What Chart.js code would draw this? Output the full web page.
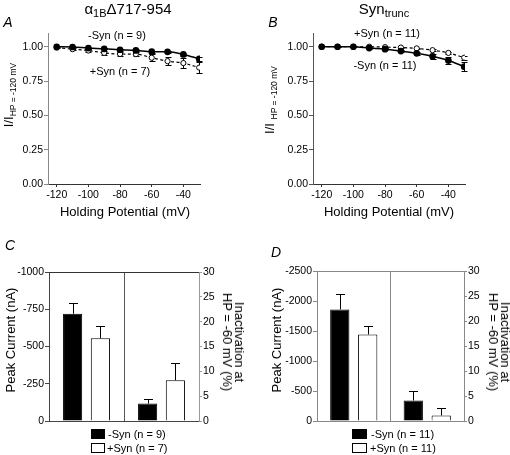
<!DOCTYPE html>
<html>
<head>
<meta charset="utf-8">
<script src="https://cdn.jsdelivr.net/npm/chart.js@4.4.1/dist/chart.umd.min.js"></script>
<style>
  body { margin: 0; background: #fff; }
  #wrap { position: relative; width: 510px; height: 455px; overflow: hidden; font-family: Arial, "Liberation Sans", sans-serif; color: #000; }
  canvas { position: absolute; }
  .t { position: absolute; white-space: nowrap; line-height: 1; transform: translate(-50%, -50%); }
  .rl { transform: translate(-50%, -50%) rotate(-90deg); }
  .rr { transform: translate(-50%, -50%) rotate(90deg); text-align: center; line-height: 12px; }
  .panel { font-style: italic; font-size: 14px; }
  .ttl { font-size: 15px; }
  .ttl sub { font-size: 11px; vertical-align: -3px; }
  .ax { font-size: 13px; }
  .ax sub { font-size: 8.5px; vertical-align: -3px; }
  .note { font-size: 11px; }
  .leg { position: absolute; font-size: 11px; line-height: 1; white-space: nowrap; }
  .box { position: absolute; box-sizing: border-box; }
</style>
</head>
<body>
<div id="wrap">
  <canvas id="chartA" width="255" height="230" style="left:0;top:0"></canvas>
  <canvas id="chartB" width="255" height="230" style="left:255px;top:0"></canvas>
  <canvas id="chartC" width="255" height="225" style="left:0;top:230px"></canvas>
  <canvas id="chartD" width="255" height="225" style="left:255px;top:230px"></canvas>

  <div class="t panel" style="left:8px;top:22px">A</div>
  <div class="t panel" style="left:273px;top:22px">B</div>
  <div class="t panel" style="left:10px;top:245px">C</div>
  <div class="t panel" style="left:276px;top:252px">D</div>

  <div class="t ttl" style="left:128px;top:10px">&alpha;<sub>1B</sub>&Delta;717-954</div>
  <div class="t ttl" style="left:384px;top:10px">Syn<sub>trunc</sub></div>

  <div class="t note" style="left:117px;top:35px">-Syn (n = 9)</div>
  <div class="t note" style="left:120px;top:71px">+Syn (n = 7)</div>
  <div class="t note" style="left:387px;top:33px">+Syn (n = 11)</div>
  <div class="t note" style="left:385px;top:65px">-Syn (n = 11)</div>

  <div class="t ax" style="left:125px;top:211px">Holding Potential (mV)</div>
  <div class="t ax" style="left:389px;top:211px">Holding Potential (mV)</div>
  <div class="t ax rl" style="left:10px;top:95px">I/I<sub>HP = -120 mV</sub></div>
  <div class="t ax rl" style="left:271px;top:100px">I/I <sub>HP = -120 mV</sub></div>

  <div class="t ax rl" style="left:10px;top:340px">Peak Current (nA)</div>
  <div class="t ax rl" style="left:276px;top:340px">Peak Current (nA)</div>
  <div class="t ax rr" style="left:233px;top:342px">Inactivation at<br>HP = -60 mV (%)</div>
  <div class="t ax rr" style="left:499px;top:342px">Inactivation at<br>HP = -60 mV (%)</div>

  <div class="box" style="left:91px;top:429px;width:14px;height:10px;background:#000"></div>
  <div class="leg" style="left:108px;top:429px">-Syn (n = 9)</div>
  <div class="box" style="left:91px;top:443px;width:14px;height:10px;border:1px solid #000"></div>
  <div class="leg" style="left:107px;top:443px">+Syn (n = 7)</div>

  <div class="box" style="left:352px;top:429px;width:15px;height:10px;background:#000"></div>
  <div class="leg" style="left:371px;top:429px">-Syn (n = 11)</div>
  <div class="box" style="left:352px;top:443px;width:15px;height:10px;border:1px solid #000"></div>
  <div class="leg" style="left:370px;top:443px">+Syn (n = 11)</div>
</div>

<script>
// holding potentials (mV)
var voltages = [-120, -110, -100, -90, -80, -70, -60, -50, -40, -30];
var xTicksLine = [-120, -100, -80, -60, -40];
var yTicksLine = [0, 0.25, 0.5, 0.75, 1.0];

// panel A, alpha1B delta717-954
var aMinusSyn    = [1.000, 0.998, 0.990, 0.985, 0.978, 0.973, 0.964, 0.963, 0.944, 0.912];
var aMinusSynErr = [0, 0.003, 0.004, 0.005, 0.006, 0.007, 0.008, 0.008, 0.010, 0.013];
var aPlusSyn     = [0.993, 0.982, 0.972, 0.955, 0.947, 0.946, 0.920, 0.895, 0.881, 0.848];
var aPlusSynErr  = [0.004, 0.008, 0.010, 0.017, 0.014, 0.017, 0.024, 0.030, 0.036, 0.040];

// panel B, Syn trunc
var bMinusSyn    = [1.000, 1.000, 1.000, 0.990, 0.982, 0.968, 0.952, 0.930, 0.900, 0.855];
var bMinusSynErr = [0, 0.003, 0.004, 0.006, 0.008, 0.010, 0.012, 0.020, 0.025, 0.035];
var bPlusSyn     = [1.000, 1.000, 1.000, 1.000, 0.997, 0.994, 0.988, 0.975, 0.955, 0.920];
var bPlusSynErr  = [0, 0.002, 0.003, 0.004, 0.004, 0.005, 0.006, 0.008, 0.010, 0.015];

// bar panels: [peak current (nA), inactivation at HP -60 mV (%)]
var barGroups = ['Peak Current', 'Inactivation'];
var cMinusSyn = [-720, 3.5];
var cMinusErr = [75, 1.0];
var cPlusSyn  = [-555, 8.2];
var cPlusErr  = [83, 3.4];
var cCurrentTicks = [-1000, -750, -500, -250, 0];

var dMinusSyn = [-1860, 4.1];
var dMinusErr = [250, 1.9];
var dPlusSyn  = [-1443, 1.1];
var dPlusErr  = [145, 1.6];
var dCurrentTicks = [-2500, -2000, -1500, -1000, -500, 0];

var inactTicks = [0, 5, 10, 15, 20, 25, 30];

Chart.defaults.font.family = 'Arial, "Liberation Sans", sans-serif';
Chart.defaults.color = '#000';

// error bars, drawn under the points / bars
var errorBars = {
    id: 'errorBars',
    beforeDatasetsDraw: function (chart) {
        var ctx = chart.ctx;
        chart.data.datasets.forEach(function (ds, i) {
            if (!ds.errors) return;
            var meta = chart.getDatasetMeta(i);
            var scale = chart.scales[meta.yAxisID];
            ctx.save();
            ctx.strokeStyle = '#000';
            ctx.lineWidth = 1;
            meta.data.forEach(function (el, j) {
                var v = ds.data[j];
                var e = ds.errors[j];
                if (v === null || v === undefined || !e) return;
                if (typeof v === 'object') v = v.y;
                var ends = ds.bothWays ? [v - e, v + e] : [v < 0 ? v - e : v + e];
                var x = Math.round(el.x) + 0.5;
                ends.forEach(function (end) {
                    var y0 = scale.getPixelForValue(v);
                    var y1 = Math.round(scale.getPixelForValue(end)) + 0.5;
                    ctx.beginPath();
                    ctx.moveTo(x, y0);
                    ctx.lineTo(x, y1);
                    ctx.moveTo(x - ds.capHalf, y1);
                    ctx.lineTo(x + ds.capHalf, y1);
                    ctx.stroke();
                });
            });
            ctx.restore();
        });
    }
};

// top frame line of the bar panels
var topFrame = {
    id: 'topFrame',
    afterDraw: function (chart, args, opts) {
        var a = chart.chartArea;
        var ctx = chart.ctx;
        ctx.save();
        ctx.strokeStyle = opts.color;
        ctx.lineWidth = 1;
        ctx.beginPath();
        ctx.moveTo(a.left, Math.round(a.top) + 0.5);
        ctx.lineTo(a.right, Math.round(a.top) + 0.5);
        ctx.stroke();
        ctx.restore();
    }
};

function points(ys) {
    return ys.map(function (y, i) { return { x: voltages[i], y: y }; });
}

function makeLineChart(id, minus, minusErr, plus, plusErr, yWidth, padRight, xColor, yColor) {
    return new Chart(document.getElementById(id), {
        type: 'line',
        data: {
            datasets: [
                {
                    label: '-Syn',
                    data: points(minus),
                    errors: minusErr, bothWays: true, capHalf: 3,
                    borderColor: '#000', borderWidth: 1.5,
                    pointRadius: 2.6, pointBackgroundColor: '#000', pointBorderColor: '#000',
                    cubicInterpolationMode: 'monotone',
                    order: 0
                },
                {
                    label: '+Syn',
                    data: points(plus),
                    errors: plusErr, bothWays: true, capHalf: 3,
                    borderColor: '#000', borderWidth: 1.2, borderDash: [3, 2.5],
                    pointRadius: 2.6, pointBackgroundColor: '#fff', pointBorderColor: '#000', pointBorderWidth: 1,
                    cubicInterpolationMode: 'monotone',
                    order: 1
                }
            ]
        },
        options: {
            responsive: false,
            animation: false,
            devicePixelRatio: 1,
            layout: { padding: { left: 0, top: 33, right: padRight, bottom: 0 } },
            plugins: { legend: { display: false }, tooltip: { enabled: false } },
            scales: {
                x: {
                    type: 'linear', min: -125.5, max: -29.5,
                    afterBuildTicks: function (s) { s.ticks = xTicksLine.map(function (v) { return { value: v }; }); },
                    afterFit: function (s) { s.height = 46; },
                    grid: { drawOnChartArea: false, tickLength: 3, color: xColor },
                    border: { color: xColor, width: 1 },
                    ticks: { font: { size: 10.5 }, padding: 2, maxRotation: 0, autoSkip: false, color: '#000' }
                },
                y: {
                    min: 0, max: 1.1,
                    afterBuildTicks: function (s) { s.ticks = yTicksLine.map(function (v) { return { value: v }; }); },
                    afterFit: function (s) { s.width = yWidth; },
                    grid: { drawOnChartArea: false, tickLength: 4, color: yColor },
                    border: { color: yColor, width: 1 },
                    ticks: { font: { size: 10.5 }, padding: 1, color: '#000',
                             callback: function (v) { return v.toFixed(2); } }
                }
            }
        },
        plugins: [errorBars]
    });
}

function makeBarChart(id, minus, minusErr, plus, plusErr, currentTicks, yWidth, padRight, topPad, colors, catPct) {
    var sets = [
        { data: [minus[0], null], errors: [minusErr[0], 0], yAxisID: 'y', fill: '#000' },
        { data: [plus[0], null],  errors: [plusErr[0], 0],  yAxisID: 'y', fill: '#fff' },
        { data: [null, minus[1]], errors: [0, minusErr[1]], yAxisID: 'y2', fill: '#000' },
        { data: [null, plus[1]],  errors: [0, plusErr[1]],  yAxisID: 'y2', fill: '#fff' }
    ];
    return new Chart(document.getElementById(id), {
        type: 'bar',
        data: {
            labels: barGroups,
            datasets: sets.map(function (s) {
                return {
                    data: s.data, errors: s.errors, capHalf: 4.5, yAxisID: s.yAxisID,
                    backgroundColor: s.fill, borderColor: '#000', borderWidth: 1,
                    skipNull: true, categoryPercentage: catPct, barPercentage: 0.69
                };
            })
        },
        options: {
            responsive: false,
            animation: false,
            devicePixelRatio: 1,
            layout: { padding: { left: 0, top: topPad, right: padRight, bottom: 0 } },
            plugins: { legend: { display: false }, tooltip: { enabled: false }, topFrame: { color: colors.top } },
            scales: {
                x: {
                    type: 'category', offset: true,
                    afterFit: function (s) { s.height = 34; },
                    grid: { display: true, drawOnChartArea: true, drawTicks: false, offset: true, color: colors.mid },
                    border: { display: true, color: colors.bottom },
                    ticks: { display: false }
                },
                y: {
                    position: 'left', reverse: true,
                    min: currentTicks[0], max: 0,
                    afterBuildTicks: function (s) { s.ticks = currentTicks.map(function (v) { return { value: v }; }); },
                    afterFit: function (s) { s.width = yWidth; },
                    grid: { drawOnChartArea: false, tickLength: 4, color: colors.left },
                    border: { color: colors.left },
                    ticks: { font: { size: 10.5 }, padding: 1, color: '#000',
                             callback: function (v) { return String(v); } }
                },
                y2: {
                    position: 'right', min: 0, max: 30,
                    afterBuildTicks: function (s) { s.ticks = inactTicks.map(function (v) { return { value: v }; }); },
                    afterFit: function (s) { s.width = 30; },
                    grid: { drawOnChartArea: false, tickLength: 3, color: colors.right },
                    border: { color: colors.right },
                    ticks: { font: { size: 10.5 }, padding: 1, color: '#000' }
                }
            }
        },
        plugins: [errorBars, topFrame]
    });
}

makeLineChart('chartA', aMinusSyn, aMinusSynErr, aPlusSyn, aPlusSynErr, 48, 55, '#333', '#888');
makeLineChart('chartB', bMinusSyn, bMinusSynErr, bPlusSyn, bPlusSynErr, 58, 45, '#333', '#555');

makeBarChart('chartC', cMinusSyn, cMinusErr, cPlusSyn, cPlusErr, cCurrentTicks, 49, 26, 42,
    { top: '#333', mid: '#555', bottom: '#444', left: '#444', right: '#999' }, 0.74);
makeBarChart('chartD', dMinusSyn, dMinusErr, dPlusSyn, dPlusErr, dCurrentTicks, 62, 16, 41,
    { top: '#888', mid: '#888', bottom: '#888', left: '#888', right: '#888' }, 0.76);
</script>
</body>
</html>
